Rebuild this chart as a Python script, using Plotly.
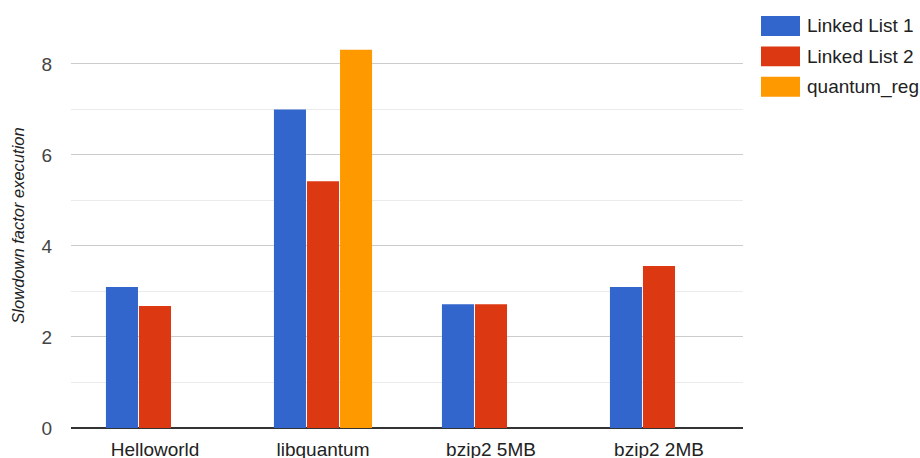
import plotly.graph_objects as go

categories = ["Helloworld", "libquantum", "bzip2 5MB", "bzip2 2MB"]
series_names = ["Linked List 1", "Linked List 2", "quantum_reg"]
linked_list_1 = [3.10, 7.00, 2.72, 3.10]
linked_list_2 = [2.68, 5.42, 2.72, 3.56]
quantum_reg = [None, 8.31, None, None]
colors = ["#3366cc", "#dc3912", "#ff9900"]

font_family = "Liberation Sans, Arial, sans-serif"

fig = go.Figure()
for name, vals, col in zip(series_names, [linked_list_1, linked_list_2, quantum_reg], colors):
    fig.add_trace(go.Bar(x=categories, y=vals, name=name, marker=dict(color=col, line=dict(width=0)),
                         showlegend=False))

# legend drawn as colored blocks with labels to the right of the plot
shapes = []
annotations = []
for i, (name, col) in enumerate(zip(series_names, colors)):
    y_top = 14 + i * 30.5
    shapes.append(dict(type="rect", xref="paper", yref="paper",
                       x0=(761 - 71) / 672, x1=(800 - 71) / 672,
                       y0=(428 - (y_top + 20)) / 407, y1=(428 - y_top) / 407,
                       fillcolor=col, line=dict(width=0)))
    annotations.append(dict(xref="paper", yref="paper", x=(805 - 71) / 672,
                            y=(428 - (y_top + 10)) / 407, text=name, showarrow=False,
                            xanchor="left", yanchor="middle",
                            font=dict(family=font_family, size=19, color="#222222")))

fig.update_layout(
    width=920, height=458,
    margin=dict(l=71, r=177, t=23, b=30),
    paper_bgcolor="white", plot_bgcolor="white",
    barmode="group", bargap=0.41, bargroupgap=0.03,
    font=dict(family=font_family, size=19, color="#444444"),
    shapes=shapes, annotations=annotations,
    xaxis=dict(range=[-0.5, 3.5], showgrid=False, showline=False, zeroline=False,
               automargin=False, ticks="", ticklabelstandoff=8,
               tickfont=dict(size=19, color="#222222")),
    yaxis=dict(range=[0, 8.9], dtick=2, tick0=0, showgrid=True, gridcolor="#cccccc", gridwidth=1,
               zeroline=True, zerolinecolor="#333333", zerolinewidth=2,
               automargin=False, showline=False, ticks="", ticklabelstandoff=18,
               tickfont=dict(size=19, color="#444444"),
               minor=dict(dtick=1, tick0=0, showgrid=True, gridcolor="#ebebeb", gridwidth=1),
               title=dict(text="<i>Slowdown factor execution</i>", standoff=12,
                          font=dict(size=16.5, color="#222222"))),
)

fig.write_html("out.html")
